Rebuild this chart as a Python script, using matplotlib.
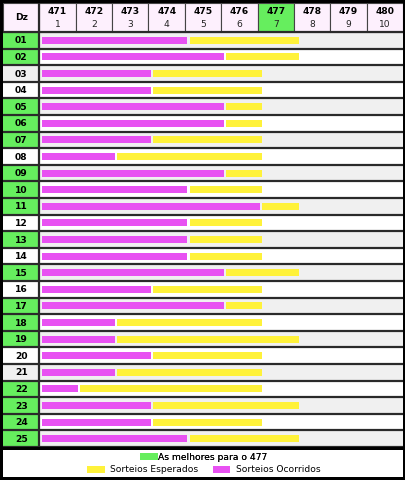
import matplotlib
matplotlib.use("Agg")
import matplotlib.pyplot as plt
from matplotlib.patches import Rectangle, Patch

# dezenas 01..25
dezenas = ["%02d" % i for i in range(1, 26)]
# sorteios ocorridos (magenta) e total esperado (fim da barra amarela)
ocorridos = [4, 5, 3, 3, 5, 5, 3, 2, 5, 4, 6, 4, 4, 4, 5, 3, 5, 2, 2, 3, 2, 1, 3, 3, 4]
esperados = [7, 7, 6, 6, 6, 6, 6, 6, 6, 6, 7, 6, 6, 6, 7, 6, 6, 6, 7, 6, 6, 6, 7, 6, 7]
# as melhores para o 477
melhores = ["01", "02", "05", "06", "07", "09", "10", "11", "13", "15", "17",
            "18", "19", "22", "23", "24", "25"]
concursos = [471, 472, 473, 474, 475, 476, 477, 478, 479, 480]
destaque = 477

verde = "#66ee5e"
amarelo = "#fff23a"
magenta = "#e851f2"
rosa = "#fdf0fd"
cinza = "#f0f0f0"

W, H = 406, 480
fig = plt.figure(figsize=(W / 100, H / 100), dpi=100, facecolor="black")

# area do quadro (pixels 3..403 x 3..447)
ax = fig.add_axes([3 / W, (H - 447) / H, 400 / W, 444 / H])
ax.set_xlim(-1, 10)
ax.set_ylim(25, -1.75)
ax.axis("off")

n = len(dezenas)
# fundo das linhas
for i in range(n):
    fundo = cinza if i % 2 == 0 else "white"
    ax.add_patch(Rectangle((0, i), 10, 1, facecolor=fundo, edgecolor="none", zorder=0))
    cor_lab = verde if dezenas[i] in melhores else fundo
    ax.add_patch(Rectangle((-1, i), 1, 1, facecolor=cor_lab, edgecolor="none", zorder=0))
    ax.text(-0.5, i + 0.53, dezenas[i], ha="center", va="center",
            fontsize=6.6, fontweight="bold", color="black")

# barras
ys = [i + 0.5 for i in range(n)]
x0 = 0.07
ax.barh(ys, ocorridos, left=x0, height=0.42, color=magenta, zorder=2)
resto = [e - o for e, o in zip(esperados, ocorridos)]
inicio = [x0 + o + 0.06 for o in ocorridos]
ax.barh(ys, resto, left=inicio, height=0.42, color=amarelo, zorder=2)

# linhas entre as dezenas
for i in range(n + 1):
    ax.axhline(i, color="#2a2a2a", lw=1.6, zorder=3)
ax.axvline(0, color="#2a2a2a", lw=1.6, zorder=3)

# cabecalho
ax.add_patch(Rectangle((-1, -1.75), 1, 1.75, facecolor=rosa, edgecolor="#444444",
                       lw=0.8, zorder=1))
ax.text(-0.5, -0.86, "Dz", ha="center", va="center", fontsize=6.6,
        fontweight="bold", color="black")
for k, c in enumerate(concursos):
    cor = verde if c == destaque else rosa
    ax.add_patch(Rectangle((k, -1.75), 1, 1.75, facecolor=cor, edgecolor="#444444",
                           lw=0.8, zorder=1))
    ax.text(k + 0.5, -1.22, str(c), ha="center", va="center", fontsize=6.6,
            fontweight="bold", color="black")
    ax.text(k + 0.5, -0.44, str(k + 1), ha="center", va="center", fontsize=6.6,
            color="#222222")

# area da legenda
fig.patches.append(Rectangle((3 / W, 3 / H), 400 / W, 27 / H, transform=fig.transFigure,
                             facecolor="white", edgecolor="none", zorder=0))

leg1 = fig.legend(handles=[Patch(facecolor=verde, edgecolor="none",
                                 label="As melhores para o 477")],
                  loc="center", bbox_to_anchor=(204 / W, (H - 457) / H),
                  frameon=False, fontsize=6.6, handlelength=1.9, handleheight=0.75,
                  handletextpad=0.05, borderpad=0, borderaxespad=0)
fig.add_artist(leg1)
fig.legend(handles=[Patch(facecolor=amarelo, edgecolor="none", label="Sorteios Esperados"),
                    Patch(facecolor=magenta, edgecolor="none", label="Sorteios Ocorridos")],
           loc="center", ncol=2, bbox_to_anchor=(204 / W, (H - 470) / H),
           frameon=False, fontsize=6.6, handlelength=1.9, handleheight=0.75,
           handletextpad=0.6, columnspacing=1.6, borderpad=0, borderaxespad=0)

fig.savefig("out.png", dpi=100, facecolor="black")
